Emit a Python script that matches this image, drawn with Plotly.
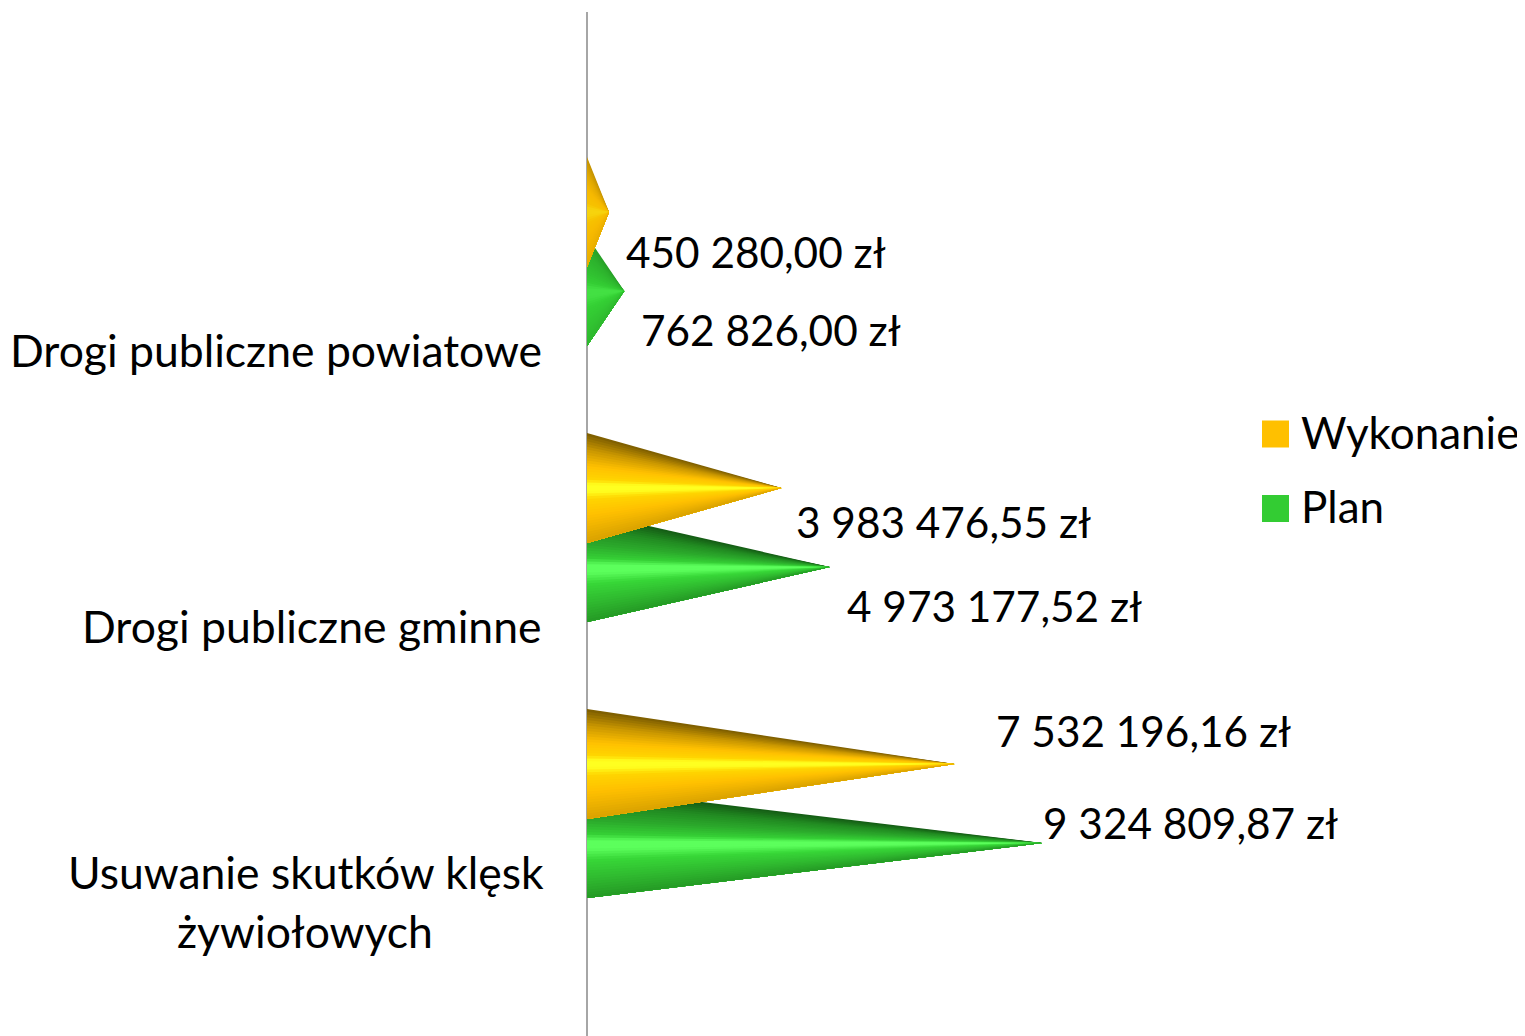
import plotly.graph_objects as go

# Values
categories = ["Drogi publiczne powiatowe", "Drogi publiczne gminne", "Usuwanie skutków klęsk<br>żywiołowych"]
wykonanie = [450280.00, 3983476.55, 7532196.16]
plan = [762826.00, 4973177.52, 9324809.87]
wykonanie_labels = ["450 280,00 zł", "3 983 476,55 zł", "7 532 196,16 zł"]
plan_labels = ["762 826,00 zł", "4 973 177,52 zł", "9 324 809,87 zł"]

# Manual label offsets from the cone tip, in pixels
wykonanie_shift = [(16, 39), (14, 33), (40, -34)]
plan_shift = [(16, 38), (16, 38), (0, -21)]

# Layout, in pixels. The page body adds 8px on the left and top
PAGE = 8
W, H = 1525, 1036 - PAGE
AXIS_X = 587
LEFT, TOP = AXIS_X - PAGE, 12 - PAGE
PX_PER_CAT = 276
PX_PER_ZL = 1 / 20494
FIRST_CAT_Y = 351 - PAGE
HALF_CONE = 55 / PX_PER_CAT
OFFSET_W = -139 / PX_PER_CAT
OFFSET_P = -60 / PX_PER_CAT
FONT = "Lato"
SIZE_CAT = 44.5
SIZE_VAL = 42.3
SIZE_LEG = 44

x_max = (W - LEFT) / PX_PER_ZL
y_top = -(FIRST_CAT_Y - TOP) / PX_PER_CAT
y_bottom = (H - FIRST_CAT_Y) / PX_PER_CAT

# Cone shading, top edge to bottom edge
shade_w = [(0.0, "#7a5b00"), (0.15, "#c89600"), (0.3, "#ffc000"), (0.42, "#ffd500"), (0.47, "#ffff20"),
           (0.53, "#ffff20"), (0.6, "#ffd500"), (0.75, "#ffc000"), (1.0, "#d9a200")]
shade_p = [(0.0, "#145a14"), (0.15, "#228b22"), (0.3, "#2cab2c"), (0.42, "#36d036"), (0.48, "#5cff5c"),
           (0.55, "#5cff5c"), (0.65, "#38d838"), (0.85, "#2eb52e"), (1.0, "#259a25")]
flat_w = "#f2b500"
flat_p = "#33cc33"
N_STRIPS = 40


def rgb(h):
    return [int(h[i:i + 2], 16) for i in (1, 3, 5)]


def shade_at(stops, t, flat, shine):
    for (t0, c0), (t1, c1) in zip(stops, stops[1:]):
        if t <= t1:
            f = (t - t0) / (t1 - t0)
            c = [a + (b - a) * f for a, b in zip(rgb(c0), rgb(c1))]
            break
    # Short cones have almost no highlight in the source
    c = [fl + (v - fl) * shine for v, fl in zip(c, rgb(flat))]
    return "rgb(%d,%d,%d)" % tuple(round(v) for v in c)


def add_cone(fig, value, y_mid, stops, flat):
    shine = 0.4 if value < 1000000 else 1
    y_end = y_mid + HALF_CONE
    # Each strip runs to the bottom edge and the next one paints over it, no seams
    for i in range(N_STRIPS):
        t0 = i / N_STRIPS
        col = shade_at(stops, t0 + 0.5 / N_STRIPS, flat, shine)
        y0 = y_mid - HALF_CONE + 2 * HALF_CONE * t0
        fig.add_trace(go.Scatter(
            x=[0, value, 0, 0], y=[y0, y_mid, y_end, y0],
            mode="lines", fill="toself", fillcolor=col,
            line=dict(color=col, width=0),
            showlegend=False, hoverinfo="skip"
        ))


fig = go.Figure()

# Plan goes first so that Wykonanie overlaps it
for i in range(len(categories)):
    add_cone(fig, plan[i], i + OFFSET_P, shade_p, flat_p)
    add_cone(fig, wykonanie[i], i + OFFSET_W, shade_w, flat_w)

annotations = []


def add_text(text, x, y, xref, yref, size, xanchor="left", xshift=0, yshift=0):
    annotations.append(dict(
        text=text, x=x, y=y, xref=xref, yref=yref, xanchor=xanchor, yanchor="middle",
        xshift=xshift, yshift=yshift, showarrow=False, borderpad=0,
        font=dict(family=FONT, size=size, color="#000000")
    ))


# Value labels
for i in range(len(categories)):
    add_text(wykonanie_labels[i], wykonanie[i], i + OFFSET_W, "x", "y", SIZE_VAL,
             xshift=wykonanie_shift[i][0], yshift=-wykonanie_shift[i][1])
    add_text(plan_labels[i], plan[i], i + OFFSET_P, "x", "y", SIZE_VAL,
             xshift=plan_shift[i][0], yshift=-plan_shift[i][1])

# Category labels
for i, cat in enumerate(categories):
    lines = cat.split("<br>")
    if len(lines) == 1:
        add_text(lines[0], 0, i, "paper", "y", SIZE_CAT, xanchor="right", xshift=543 - AXIS_X, yshift=2)
    else:
        add_text(lines[0], 0, i, "paper", "y", SIZE_CAT, xanchor="center", xshift=306 - AXIS_X, yshift=31.5)
        add_text(lines[1], 0, i, "paper", "y", SIZE_CAT, xanchor="center", xshift=305 - AXIS_X, yshift=-27.5)

# Legend
legend_items = ["Wykonanie", "Plan"]
legend_colors = ["#ffc000", "#33cc33"]
legend_y = [434 - PAGE, 508.5 - PAGE]
shapes = []
plot_w = W - LEFT
plot_h = H - TOP
for name, col, ly in zip(legend_items, legend_colors, legend_y):
    shapes.append(dict(
        type="rect", xref="paper", yref="paper",
        x0=(1262 - AXIS_X) / plot_w, x1=(1289 - AXIS_X) / plot_w,
        y0=(H - ly - 13.5) / plot_h, y1=(H - ly + 13.5) / plot_h,
        fillcolor=col, line=dict(width=0)
    ))
    add_text(name, (1300 - AXIS_X) / plot_w, (H - ly) / plot_h, "paper", "paper", SIZE_LEG, yshift=2.5)

fig.update_layout(
    width=W, height=H,
    margin=dict(l=LEFT, r=0, t=TOP, b=0),
    paper_bgcolor="white", plot_bgcolor="white",
    showlegend=False,
    annotations=annotations,
    shapes=shapes
)
# The vertical line is the zero line, so it sits centred under the cone bases
fig.update_xaxes(
    range=[0, x_max], showgrid=False, showticklabels=False, ticks="",
    zeroline=True, zerolinecolor="#a6a6a6", zerolinewidth=2
)
fig.update_yaxes(range=[y_bottom, y_top], showgrid=False, zeroline=False, showticklabels=False, ticks="")

fig.write_html("out.html")
